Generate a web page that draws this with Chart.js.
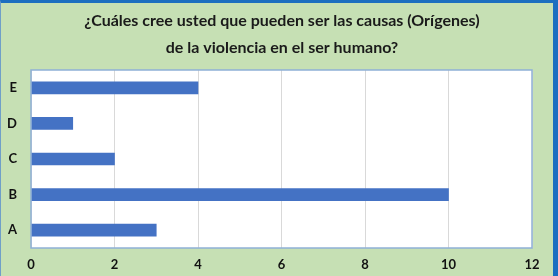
<!DOCTYPE html>
<html>
<head>
<meta charset="utf-8">
<script src="https://cdn.jsdelivr.net/npm/chart.js@4"></script>
<style>
  html, body { margin: 0; padding: 0; }
  body { width: 558px; height: 276px; background: #c6e0b4; position: relative; overflow: hidden; }
  #wrap { position: absolute; left: 0; top: 0; width: 558px; height: 276px; }
  #frame {
    position: absolute; left: 0; top: 0; width: 558px; height: 276px;
    border-top: 3px solid #1c6fc0; border-right: 5px solid #1c6fc0;
    border-left: 1px solid #6f9fc8; box-sizing: border-box;
    pointer-events: none;
  }
</style>
</head>
<body>
<div id="wrap"><canvas id="causasChart" width="558" height="276"></canvas></div>
<div id="frame"></div>
<script>
// Causas de la violencia
const categories = ["A", "B", "C", "D", "E"];
const counts = [3, 10, 2, 1, 4];
const xTicks = [0, 2, 4, 6, 8, 10, 12];
const titleLines = ["¿Cuáles cree usted que pueden ser las causas (Orígenes)", "de la violencia en el ser humano?"];

// white plot area, thin blue frame and the two-line title
const plotBox = {
  id: "plotBox",
  beforeDraw(chart) {
    const a = chart.chartArea, ctx = chart.ctx;
    ctx.save();
    ctx.fillStyle = "#ffffff";
    ctx.fillRect(a.left, a.top, a.right - a.left, a.bottom - a.top);
    ctx.restore();
  },
  afterDraw(chart) {
    const a = chart.chartArea, ctx = chart.ctx;
    ctx.save();
    ctx.strokeStyle = "#8fb0d6";
    ctx.lineWidth = 1.5;
    ctx.strokeRect(a.left, a.top, a.right - a.left, a.bottom - a.top);
    ctx.fillStyle = "#1a1a1a";
    ctx.font = "bold 16px Lato";
    ctx.textAlign = "center";
    ctx.textBaseline = "middle";
    ctx.fillText(titleLines[0], 282, 21);
    ctx.fillText(titleLines[1], 282, 48);
    ctx.restore();
  },
};

new Chart(document.getElementById("causasChart"), {
  type: "bar",
  data: {
    labels: categories,
    datasets: [
      {
        label: "Respuestas",
        data: counts,
        backgroundColor: "#4472c4",
        barThickness: 12,
      },
    ],
  },
  options: {
    indexAxis: "y",
    responsive: false,
    animation: false,
    layout: { padding: { left: 0, right: 26, top: 70, bottom: 0 } },
    plugins: {
      legend: { display: false },
      tooltip: { enabled: false },
      title: { display: false },
    },
    scales: {
      x: {
        min: 0,
        max: 12,
        afterBuildTicks: (s) => { s.ticks = xTicks.map((v) => ({ value: v })); },
        afterFit: (s) => { s.height = 28; },
        grid: { color: "#d9d9d9", drawTicks: false },
        border: { display: false },
        ticks: { color: "#111111", padding: 9, font: { family: "Lato", size: 13, weight: "bold" } },
      },
      y: {
        reverse: true,
        afterFit: (s) => { s.width = 31; },
        grid: { display: false },
        border: { display: false },
        ticks: { color: "#111111", padding: 6, font: { family: "Lato", size: 13, weight: "bold" } },
      },
    },
  },
  plugins: [plotBox],
});
</script>
</body>
</html>
